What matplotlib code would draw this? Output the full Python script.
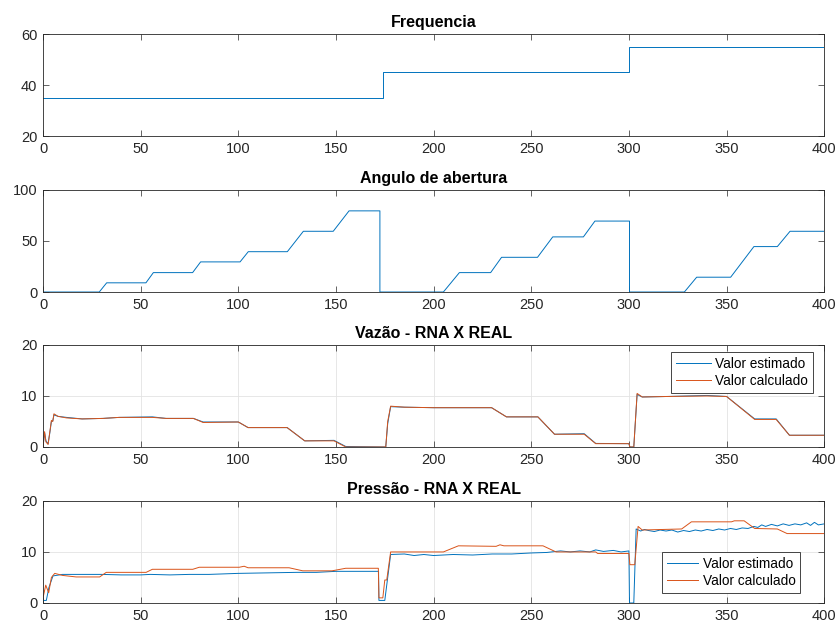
import matplotlib
matplotlib.use("Agg")
import matplotlib.pyplot as plt

plt.rcParams['font.family'] = ['Liberation Sans', 'DejaVu Sans']

# frequencia (Hz)
freq_t = [0, 174, 174, 300, 300, 400]
freq_v = [35, 35, 45, 45, 55, 55]

# angulo de abertura (graus)
ang_t = [0, 28.8, 32.6, 52.7, 56.5, 76.6, 80.7, 100.9, 105.1, 125.1, 133.3, 148.6,
         156.7, 172.5, 172.5, 205, 213.2, 229.2, 234.8, 253.2, 261, 276.7, 282.6,
         300.3, 300.3, 328.4, 334.7, 352.1, 364, 376, 382.5, 400]
ang_v = [0, 0, 9, 9, 19, 19, 29.5, 29.5, 39.5, 39.5, 59.5, 59.5,
         79.5, 79.5, 0, 0, 19, 19, 34, 34, 54, 54, 69.5,
         69.5, 0, 0, 14.5, 14.5, 44.5, 44.5, 59.5, 59.5]

# vazao
vaz_t = [0, 0.8, 1.5, 2.6, 3.5, 4.3, 5.0, 5.6, 7.7, 12, 20, 30.7, 39, 56, 63,
         77, 82, 100, 105, 125, 134, 149, 155, 175.5, 176.5, 178, 185, 200, 229.7, 237.3,
         253.4, 261.9, 277.1, 283, 300, 300.5, 302.5, 304.2, 306.8, 320,
         340, 350, 364.4, 375.4, 382.2, 400]
vaz_est = [0, 2.8, 1.2, 0.6, 2.8, 5.0, 5.1, 6.3, 6.0, 5.8, 5.5, 5.6, 5.8, 5.9, 5.6,
           5.6, 4.9, 4.9, 3.8, 3.8, 1.2, 1.3, 0.1, 0, 4.6, 7.9, 7.8, 7.7, 7.7, 5.9,
           5.9, 2.5, 2.6, 0.7, 0.65, 0, 0, 10.3, 9.8, 9.9,
           10.1, 9.9, 5.5, 5.5, 2.3, 2.3]
vaz_calc = [0, 3, 1, 0.5, 3, 5.2, 5, 6.5, 6.0, 5.7, 5.5, 5.6, 5.8, 5.8, 5.6,
            5.6, 4.8, 4.9, 3.8, 3.8, 1.2, 1.2, 0, 0, 5, 8.0, 7.8, 7.7, 7.7, 5.9,
            5.9, 2.5, 2.5, 0.65, 0.65, 0, 0, 10.5, 9.8, 9.9,
            10, 9.9, 5.4, 5.4, 2.3, 2.3]

# pressao - estimado (RNA), com o ruido
pe_t = [0, 1.7, 3, 5.1, 10, 20, 30, 40, 50, 55, 65, 75, 85, 100, 115, 130, 140,
        150, 160, 171.8, 172, 175, 178,
        185, 190, 195, 200, 210, 220, 230, 240, 250, 258, 265, 270, 275, 280, 283,
        287, 292, 296, 300, 300.3, 302.5, 303.7,
        306, 308, 310, 313, 316, 319, 322, 325, 328, 331, 334, 337, 340, 343, 346,
        349, 352, 355, 358, 361, 364, 366, 368, 370, 373, 376, 379, 382, 385, 388,
        391, 393, 395, 397, 400]
pe_v = [0.5, 0.5, 3, 5.3, 5.6, 5.6, 5.6, 5.5, 5.5, 5.6, 5.5, 5.6, 5.6, 5.8, 5.9, 6.0, 6.0,
        6.2, 6.2, 6.2, 0.5, 0.5, 9.5,
        9.6, 9.3, 9.5, 9.3, 9.5, 9.4, 9.6, 9.6, 9.8, 9.9, 10.2, 10.0, 10.2, 10.0, 10.4,
        10.1, 10.3, 10.0, 10.2, 0, 0, 14.5,
        14.1, 14.4, 14.2, 14.0, 14.3, 14.1, 14.3, 13.9, 14.2, 14.0, 14.3, 14.1, 14.4, 14.2, 14.5,
        14.3, 14.6, 14.4, 14.7, 14.6, 15.0, 14.8, 15.3, 15.0, 15.4, 15.1, 15.5, 15.2, 15.5, 15.3,
        15.7, 15.2, 15.8, 15.3, 15.5]
# pressao - calculado
pc_t = [0, 1.4, 2.9, 4.3, 6, 10, 17, 29, 32.4, 52.8, 56, 76.7, 80, 100.5, 103,
        105, 126, 133, 148, 155, 171.7, 172, 174, 175, 176, 178, 185, 205, 212.7, 232,
        234, 236, 256, 262.7, 283, 284, 300, 300.5, 303, 304.7, 306.8, 327, 332, 352.5, 354,
        359, 364.4, 376, 381, 400]
pc_v = [1, 3.5, 2, 5, 5.8, 5.4, 5.1, 5.1, 6.0, 6.0, 6.6, 6.6, 7.0, 7.0, 7.2,
        6.9, 6.9, 6.3, 6.3, 6.8, 6.8, 1.0, 1.0, 4.5, 4.5, 10, 10, 10, 11.2, 11.1,
        11.4, 11.2, 11.2, 10, 10, 9.7, 9.7, 7.5, 7.5, 15, 14.3, 14.5, 15.9, 15.9, 16.1,
        16.1, 14.6, 14.5, 13.6, 13.6]

blue = '#0072BD'
orange = '#D95319'
dark = '#262626'

fig = plt.figure(figsize=(8.4, 6.3), dpi=100)
left, width, height = 0.0512, 0.930, 0.162
bottoms = [0.784, 0.5365, 0.2905, 0.0429]
axes = [fig.add_axes([left, b, width, height]) for b in bottoms]

for ax in axes:
    ax.set_xlim(0, 400)
    ax.set_xticks(range(0, 401, 50))
    ax.tick_params(direction='in', top=True, right=True, length=4, width=0.5,
                   labelsize=10.5, colors=dark, pad=4)
    for s in ax.spines.values():
        s.set_color(dark)
        s.set_linewidth(0.6)

ax = axes[0]
ax.plot(freq_t, freq_v, color=blue, lw=0.7)
ax.set_ylim(20, 60)
ax.set_yticks([20, 40, 60])
ax.set_title('Frequencia', fontsize=11.5, fontweight='bold', pad=5)

ax = axes[1]
ax.plot(ang_t, ang_v, color=blue, lw=0.7)
ax.set_ylim(0, 100)
ax.set_yticks([0, 50, 100])
ax.set_title('Angulo de abertura', fontsize=11.5, fontweight='bold', pad=5)

ax = axes[2]
ax.plot(vaz_t, vaz_est, color=blue, lw=0.7, label='Valor estimado')
ax.plot(vaz_t, vaz_calc, color=orange, lw=0.7, label='Valor calculado')
ax.set_ylim(0, 20)
ax.set_yticks([0, 10, 20])
ax.grid(True, color='#e3e3e3', lw=0.6)
ax.set_axisbelow(True)
ax.set_title('Vazão - RNA X REAL', fontsize=11.5, fontweight='bold', pad=5)
leg = ax.legend(loc='upper right', bbox_to_anchor=(0.9855, 0.931), fontsize=9.8,
                fancybox=False, edgecolor=dark, framealpha=1, handlelength=2.6,
                handletextpad=0.3, borderpad=0.35, labelspacing=0.25, borderaxespad=0)
leg.get_frame().set_linewidth(0.6)

ax = axes[3]
ax.plot(pe_t, pe_v, color=blue, lw=0.7, label='Valor estimado')
ax.plot(pc_t, pc_v, color=orange, lw=0.7, label='Valor calculado')
ax.set_ylim(0, 20)
ax.set_yticks([0, 10, 20])
ax.grid(True, color='#e3e3e3', lw=0.6)
ax.set_axisbelow(True)
ax.set_title('Pressão - RNA X REAL', fontsize=11.5, fontweight='bold', pad=5)
leg = ax.legend(loc='lower right', bbox_to_anchor=(0.9693, 0.098), fontsize=9.8,
                fancybox=False, edgecolor=dark, framealpha=1, handlelength=2.3,
                handletextpad=0.35, borderpad=0.35, labelspacing=0.25, borderaxespad=0)
leg.get_frame().set_linewidth(0.6)

fig.savefig('out.png', dpi=100)
